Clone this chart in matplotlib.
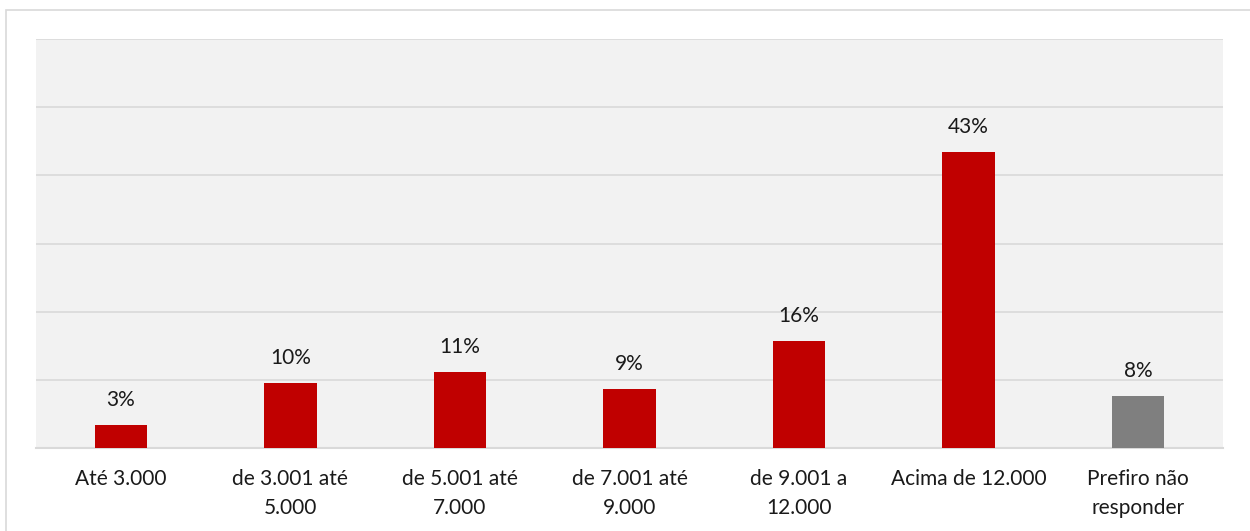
import matplotlib.pyplot as plt
from matplotlib.patches import Rectangle

categories = ['Até 3.000', 'de 3.001 até\n5.000', 'de 5.001 até\n7.000', 'de 7.001 até\n9.000',
              'de 9.001 a\n12.000', 'Acima de 12.000', 'Prefiro não\nresponder']
values = [3.4, 9.5, 11.2, 8.6, 15.7, 43.4, 7.7]
labels = ['3%', '10%', '11%', '9%', '16%', '43%', '8%']
colors = ['#c00000'] * 6 + ['#7f7f7f']

plt.rcParams['font.family'] = ['Lato', 'DejaVu Sans']

fig = plt.figure(figsize=(12.5, 5.31), dpi=100)
fig.patches.append(Rectangle((6 / 1250, -0.01), 1.0, 1 - 10 / 531 + 0.01, transform=fig.transFigure,
                             fill=False, edgecolor='#d9d9d9', linewidth=1.2))
ax = fig.add_axes([36 / 1250, 1 - 448 / 531, (1223 - 36) / 1250, (448 - 39) / 531])
ax.set_facecolor('#f2f2f2')

x = range(len(categories))
bars = ax.bar(x, values, width=0.31, color=colors, zorder=3)
for b, lab in zip(bars, labels):
    ax.text(b.get_x() + b.get_width() / 2, b.get_height() + 2.2, lab,
            ha='center', va='bottom', fontsize=15, color='#1a1a1a')

ax.set_ylim(0, 60)
ax.set_xlim(-0.5, len(categories) - 0.5)
ax.set_yticks(range(0, 61, 10))
ax.yaxis.grid(True, color='#d9d9d9', linewidth=1.2, zorder=0)
ax.tick_params(axis='y', left=False, labelleft=False)
ax.tick_params(axis='x', length=0, pad=15)
ax.set_xticks(list(x))
ax.set_xticklabels(categories, fontsize=15, color='#1a1a1a', linespacing=1.55)
for s in ['top', 'right', 'left']:
    ax.spines[s].set_visible(False)
ax.spines['bottom'].set_color('#d9d9d9')
ax.spines['bottom'].set_linewidth(1.5)

fig.savefig('out.png', dpi=100)
